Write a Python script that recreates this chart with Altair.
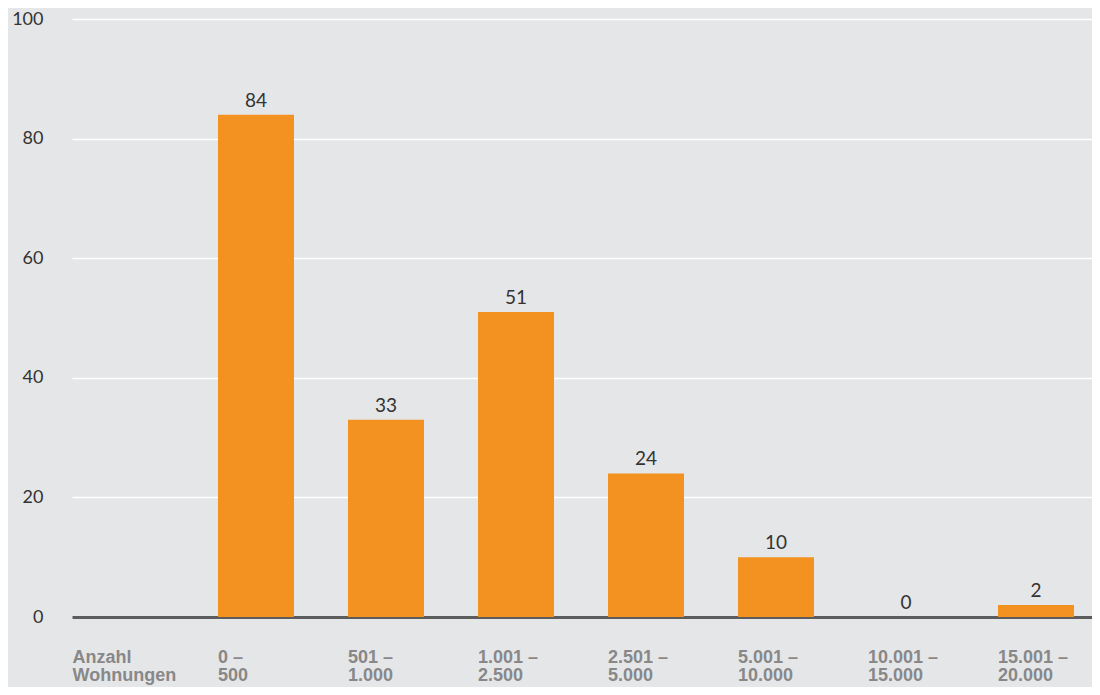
import altair as alt
import pandas as pd

categories = ["0 –\n500", "501 –\n1.000", "1.001 –\n2.500", "2.501 –\n5.000",
              "5.001 –\n10.000", "10.001 –\n15.000", "15.001 –\n20.000"]
values = [84, 33, 51, 24, 10, 0, 2]
y_ticks = [0, 20, 40, 60, 80, 100]
x_title = ["Anzahl", "Wohnungen"]

df = pd.DataFrame({"cat": categories, "val": values})

BG = "#e5e6e8"
ORANGE = "#f39220"
NUM_FONT = "Lato"
LAB_FONT = "Liberation Sans"
LAB_COLOR = "#888888"

x = alt.X("cat:N", sort=categories,
          scale=alt.Scale(paddingInner=0.41538, paddingOuter=0.63077, align=0.8902),
          axis=alt.Axis(title=x_title, titleX=0, titleY=45, titleAlign="left",
                        titleBaseline="alphabetic", titleAngle=0, titleFont=LAB_FONT,
                        titleFontWeight="bold", titleFontSize=18, titleColor=LAB_COLOR,
                        titleLineHeight=18,
                        labelAngle=0, labelAlign="left", labelBaseline="alphabetic",
                        labelOffset=-38, labelPadding=45, labelFont=LAB_FONT,
                        labelFontWeight="bold", labelFontSize=18, labelColor=LAB_COLOR,
                        labelLineHeight=18,
                        labelExpr="split(datum.label, '\\n')",
                        ticks=False, domain=True, domainColor="#5c5c5c", domainWidth=3,
                        grid=False))
y = alt.Y("val:Q", scale=alt.Scale(domain=[0, 100], nice=False),
          axis=alt.Axis(title=None, values=y_ticks, ticks=False, domain=False,
                        grid=True, gridColor="#ffffff", gridWidth=1.5,
                        labelFont=NUM_FONT, labelFontWeight="normal", labelFontSize=18,
                        labelColor="#333333", labelPadding=29))

bars = alt.Chart(df).mark_bar(color=ORANGE).encode(x=x, y=y)
text = alt.Chart(df).mark_text(baseline="alphabetic", dy=-8, font=NUM_FONT,
                               fontWeight="normal", fontSize=19, color="#333333").encode(
    x=alt.X("cat:N", sort=categories), y="val:Q", text="val:Q")

chart = (bars + text).properties(
    width=1020, height=598,
    padding={"left": 64, "top": 11, "right": 0, "bottom": 70},
    autosize=alt.AutoSizeParams(type="none"),
    background=BG,
).configure_view(stroke=None, fill=BG)

chart.save("out.html", embed_options={"renderer": "svg", "actions": False})
